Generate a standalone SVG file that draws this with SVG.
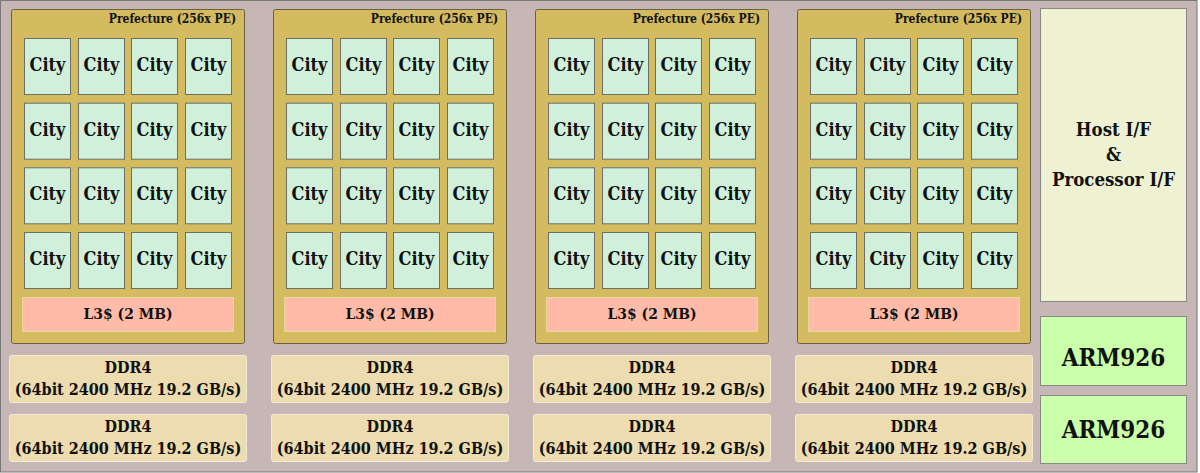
<svg xmlns="http://www.w3.org/2000/svg" width="1200" height="473" viewBox="0 0 1200 473">
<style>
text{font-family:"DejaVu Serif Condensed","DejaVu Serif","Liberation Serif",serif;font-stretch:condensed;font-weight:bold;fill:#111;text-anchor:middle}
.pref{fill:#d4bb60;stroke:#6a6040;stroke-width:1}
.city{fill:#d0f0dc;stroke:#6a7068;stroke-width:1}
.l3{fill:#ffbba8;stroke:#e8d8a0;stroke-width:1}
.ddr{fill:#ecdcb0;stroke:#f4ecd0;stroke-width:1}
.host{fill:#eef2d2;stroke:#888;stroke-width:1}
.arm{fill:#ccffaa;stroke:#888;stroke-width:1}
.ct{font-size:18px}
.pt{font-size:12px;text-anchor:end}
.lt{font-size:15.5px}
.dt{font-size:16px}
.ht{font-size:18.5px}
.at{font-size:24px}
</style>
<defs>
<g id="pf">
<rect class="pref" x="11.5" y="9.5" width="233" height="334" rx="2"/>
<text class="pt" x="236" y="23">Prefecture (256x PE)</text>
<g id="row">
<rect class="city" x="24.5" y="38.5" width="46" height="56"/>
<rect class="city" x="78.5" y="38.5" width="46" height="56"/>
<rect class="city" x="131.5" y="38.5" width="46" height="56"/>
<rect class="city" x="185.5" y="38.5" width="46" height="56"/>
<text class="ct" x="47.5" y="71">City</text>
<text class="ct" x="101.5" y="71">City</text>
<text class="ct" x="154.5" y="71">City</text>
<text class="ct" x="208.5" y="71">City</text>
</g>
<use href="#row" y="64.7"/>
<use href="#row" y="129.3"/>
<use href="#row" y="194"/>
<rect class="l3" x="22.5" y="297.5" width="211" height="34"/>
<text class="lt" x="128" y="319">L3$ (2 MB)</text>
</g>
<g id="dd">
<rect class="ddr" x="9.5" y="355.5" width="237" height="47" rx="2"/>
<text class="dt" x="128" y="373">DDR4</text>
<text class="dt" x="128" y="395">(64bit 2400 MHz 19.2 GB/s)</text>
</g>
</defs>
<rect x="0.5" y="0.5" width="1196.5" height="471.5" fill="#c6b6b6" stroke="#777" stroke-width="1"/>
<g id="prefecture1"><use href="#pf"/></g>
<g id="prefecture2"><use href="#pf" x="262"/></g>
<g id="prefecture3"><use href="#pf" x="524"/></g>
<g id="prefecture4"><use href="#pf" x="786"/></g>
<g id="ddr1a"><use href="#dd"/></g>
<g id="ddr1b"><use href="#dd" y="59"/></g>
<g id="ddr2a"><use href="#dd" x="262"/></g>
<g id="ddr2b"><use href="#dd" x="262" y="59"/></g>
<g id="ddr3a"><use href="#dd" x="524"/></g>
<g id="ddr3b"><use href="#dd" x="524" y="59"/></g>
<g id="ddr4a"><use href="#dd" x="786"/></g>
<g id="ddr4b"><use href="#dd" x="786" y="59"/></g>
<g id="host">
<rect class="host" x="1040.5" y="8.5" width="146" height="293"/>
<text class="ht" x="1113.5" y="136">Host I/F</text>
<text class="ht" x="1113.5" y="161">&amp;</text>
<text class="ht" x="1113.5" y="186">Processor I/F</text>
</g>
<g id="arm1">
<rect class="arm" x="1040.5" y="316.5" width="146" height="69"/>
<text class="at" x="1113.5" y="366">ARM926</text>
</g>
<g id="arm2">
<rect class="arm" x="1040.5" y="395.5" width="146" height="68"/>
<text class="at" x="1113.5" y="438">ARM926</text>
</g>
<g id="connectors"/>
</svg>
